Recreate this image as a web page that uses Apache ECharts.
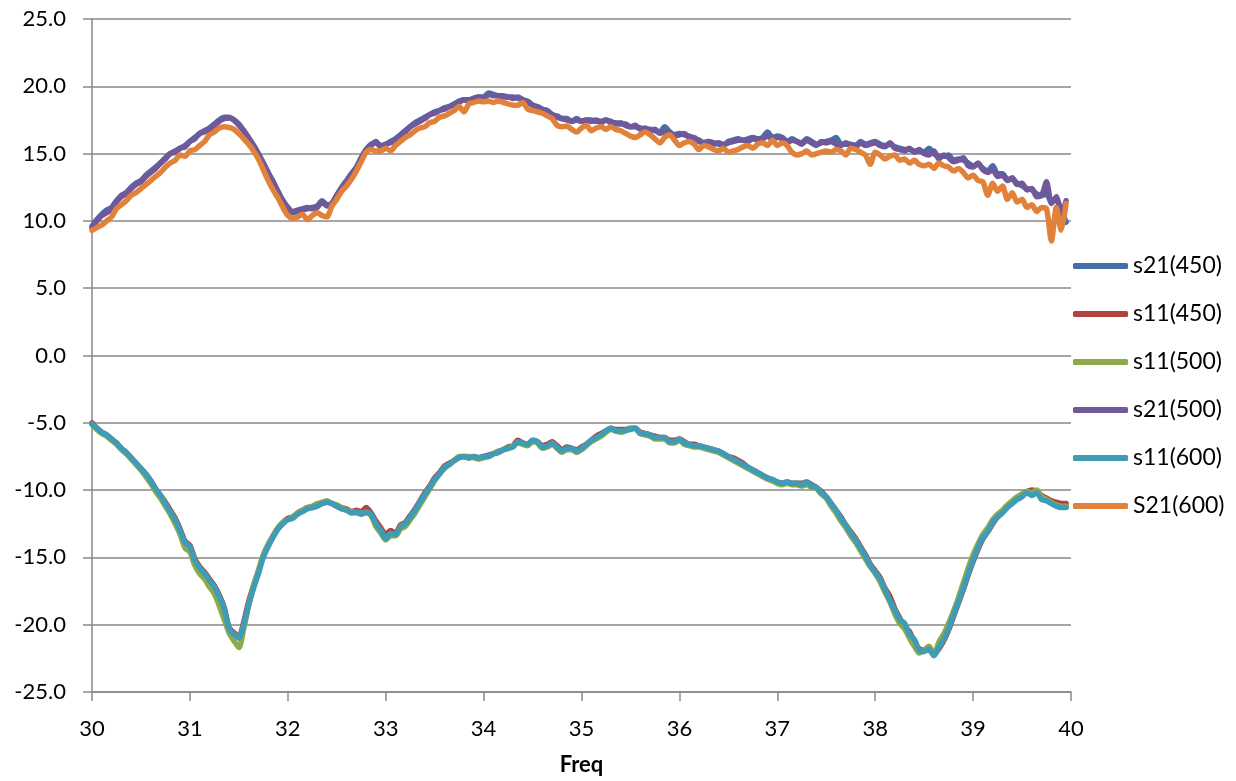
<!DOCTYPE html>
<html><head><meta charset="utf-8">
<script src="https://cdn.jsdelivr.net/npm/echarts@6/dist/echarts.min.js"></script>
<style>html,body{margin:0;padding:0;background:#fff}#c{width:1236px;height:781px}</style>
</head><body><div id="c"></div>
<script>
const freq = [
30,30.05,30.1,30.15,30.2,30.25,30.3,30.35,30.4,30.45,30.5,30.55,30.6,30.65,30.7,30.75,30.8,30.85,30.9,30.95,
31,31.05,31.1,31.15,31.2,31.25,31.3,31.35,31.4,31.45,31.5,31.55,31.6,31.65,31.7,31.75,31.8,31.85,31.9,31.95,
32,32.05,32.1,32.15,32.2,32.25,32.3,32.35,32.4,32.45,32.5,32.55,32.6,32.65,32.7,32.75,32.8,32.85,32.9,32.95,
33,33.05,33.1,33.15,33.2,33.25,33.3,33.35,33.4,33.45,33.5,33.55,33.6,33.65,33.7,33.75,33.8,33.85,33.9,33.95,
34,34.05,34.1,34.15,34.2,34.25,34.3,34.35,34.4,34.45,34.5,34.55,34.6,34.65,34.7,34.75,34.8,34.85,34.9,34.95,
35,35.05,35.1,35.15,35.2,35.25,35.3,35.35,35.4,35.45,35.5,35.55,35.6,35.65,35.7,35.75,35.8,35.85,35.9,35.95,
36,36.05,36.1,36.15,36.2,36.25,36.3,36.35,36.4,36.45,36.5,36.55,36.6,36.65,36.7,36.75,36.8,36.85,36.9,36.95,
37,37.05,37.1,37.15,37.2,37.25,37.3,37.35,37.4,37.45,37.5,37.55,37.6,37.65,37.7,37.75,37.8,37.85,37.9,37.95,
38,38.05,38.1,38.15,38.2,38.25,38.3,38.35,38.4,38.45,38.5,38.55,38.6,38.65,38.7,38.75,38.8,38.85,38.9,38.95,
39,39.05,39.1,39.15,39.2,39.25,39.3,39.35,39.4,39.45,39.5,39.55,39.6,39.65,39.7,39.75,39.8,39.85,39.9,39.95
];
const s21_450 = [
9.6,10.1,10.5,10.8,11.0,11.5,11.9,12.1,12.5,12.8,13.0,13.4,13.7,14.0,14.3,14.7,15.0,15.2,15.4,15.6,
15.9,16.2,16.5,16.7,16.9,17.2,17.5,17.7,17.7,17.5,17.2,16.7,16.2,15.6,15.0,14.3,13.6,12.9,12.2,11.5,
11.0,10.6,10.7,10.8,10.9,11.0,11.1,11.5,11.2,11.3,11.9,12.5,13.0,13.5,14.0,14.7,15.3,15.7,15.8,15.6,
15.7,15.9,16.1,16.4,16.7,17.0,17.3,17.5,17.7,17.9,18.1,18.2,18.4,18.5,18.7,18.9,19.0,19.0,19.1,19.2,
19.2,19.5,19.4,19.3,19.3,19.2,19.2,19.1,19.0,18.9,18.6,18.5,18.3,18.2,17.9,17.8,17.6,17.6,17.4,17.6,
17.4,17.5,17.5,17.4,17.4,17.5,17.3,17.3,17.2,17.2,17.0,17.0,16.9,16.8,16.8,16.7,16.6,17.0,16.6,16.4,
16.5,16.4,16.3,16.1,16.0,15.8,15.9,15.8,15.7,15.6,15.9,16.0,16.1,16.0,16.1,16.2,16.1,16.2,16.6,16.2,
16.3,16.2,15.9,16.1,15.9,15.8,16.1,15.9,15.7,15.8,15.9,16.0,16.2,15.7,15.7,15.7,15.6,15.9,15.7,15.8,
15.9,15.7,15.6,15.7,15.5,15.4,15.3,15.3,15.2,15.2,15.1,15.4,15.0,14.8,14.8,14.9,14.5,14.6,14.5,14.3,
14.1,14.2,13.9,13.7,14.1,13.5,13.5,13.1,13.1,12.8,12.6,12.4,12.3,12.0,11.9,12.0,11.4,11.6,10.8,9.9
];
const s11_450 = [
-5.0,-5.4,-5.7,-5.9,-6.2,-6.5,-6.9,-7.2,-7.6,-8.0,-8.4,-8.8,-9.3,-9.9,-10.4,-10.9,-11.5,-12.1,-12.9,-13.8,
-14.1,-15.1,-15.7,-16.1,-16.6,-17.1,-17.8,-18.7,-20.2,-20.6,-20.9,-19.8,-18.3,-17.1,-16.0,-14.9,-14.1,-13.4,-12.8,-12.4,
-12.1,-12.0,-11.7,-11.5,-11.3,-11.3,-11.1,-11.0,-10.9,-11.0,-11.2,-11.3,-11.4,-11.6,-11.5,-11.6,-11.3,-11.7,-12.3,-12.8,
-13.3,-13.0,-13.2,-12.6,-12.4,-11.9,-11.4,-10.8,-10.2,-9.7,-9.1,-8.7,-8.2,-8.0,-7.8,-7.6,-7.5,-7.6,-7.5,-7.6,
-7.5,-7.4,-7.3,-7.2,-7.0,-6.8,-6.7,-6.3,-6.5,-6.6,-6.3,-6.4,-6.7,-6.6,-6.4,-6.7,-7.0,-6.8,-6.9,-7.0,
-6.8,-6.6,-6.3,-6.0,-5.8,-5.6,-5.4,-5.5,-5.5,-5.5,-5.4,-5.4,-5.7,-5.8,-5.9,-6.0,-6.1,-6.1,-6.3,-6.3,
-6.2,-6.4,-6.6,-6.6,-6.7,-6.8,-6.9,-7.0,-7.1,-7.3,-7.5,-7.6,-7.8,-8.0,-8.3,-8.5,-8.7,-8.9,-9.1,-9.3,
-9.4,-9.5,-9.4,-9.5,-9.5,-9.5,-9.4,-9.6,-9.8,-10.1,-10.5,-11.0,-11.5,-12.0,-12.6,-13.1,-13.6,-14.2,-14.8,-15.5,
-16.0,-16.5,-17.3,-17.9,-18.8,-19.5,-20.2,-20.5,-21.3,-21.8,-21.9,-21.9,-22.2,-21.8,-21.2,-20.4,-19.4,-18.4,-17.4,-16.3,
-15.3,-14.4,-13.6,-13.1,-12.5,-12.0,-11.6,-11.2,-10.9,-10.6,-10.3,-10.1,-10.0,-10.1,-10.4,-10.6,-10.8,-10.9,-11.0,-11.0
];
const s11_500 = [
-5.1,-5.5,-5.8,-6.0,-6.3,-6.6,-7.0,-7.3,-7.7,-8.1,-8.5,-9.0,-9.5,-10.1,-10.6,-11.2,-11.8,-12.5,-13.3,-14.3,
-14.6,-15.6,-16.2,-16.6,-17.2,-17.7,-18.6,-19.6,-20.6,-21.2,-21.7,-20.3,-18.6,-17.1,-16.0,-14.8,-14.0,-13.4,-12.8,-12.4,
-12.2,-12.0,-11.7,-11.5,-11.3,-11.2,-11.0,-10.9,-10.8,-11.0,-11.1,-11.3,-11.5,-11.6,-11.7,-11.7,-11.7,-11.9,-12.7,-13.2,
-13.7,-13.4,-13.4,-12.9,-12.7,-12.2,-11.7,-11.1,-10.5,-9.9,-9.3,-8.8,-8.4,-8.1,-7.8,-7.5,-7.5,-7.5,-7.6,-7.7,
-7.6,-7.5,-7.3,-7.1,-7.0,-6.9,-6.7,-6.5,-6.6,-6.7,-6.4,-6.5,-6.9,-6.8,-6.6,-6.9,-7.2,-7.0,-7.0,-7.2,
-7.0,-6.7,-6.4,-6.2,-6.0,-5.7,-5.5,-5.6,-5.7,-5.6,-5.4,-5.4,-5.8,-5.9,-6.0,-6.2,-6.2,-6.2,-6.5,-6.5,
-6.3,-6.6,-6.7,-6.8,-6.8,-6.9,-7.0,-7.1,-7.2,-7.4,-7.6,-7.8,-8.0,-8.2,-8.4,-8.6,-8.8,-9.0,-9.2,-9.3,
-9.5,-9.6,-9.5,-9.6,-9.6,-9.7,-9.6,-9.8,-9.9,-10.3,-10.6,-11.2,-11.7,-12.3,-12.8,-13.4,-13.9,-14.5,-15.1,-15.7,
-16.2,-16.8,-17.6,-18.3,-19.2,-19.9,-20.3,-21.0,-21.6,-22.1,-21.9,-21.6,-22.2,-21.3,-20.7,-19.9,-19.0,-18.0,-16.9,-15.8,
-14.8,-14.0,-13.3,-12.8,-12.2,-11.8,-11.5,-11.1,-10.8,-10.5,-10.3,-10.1,-10.2,-10.0,-10.5,-10.7,-10.9,-11.1,-11.2,-11.2
];
const s21_500 = [
9.5,10.0,10.4,10.6,10.9,11.4,11.8,12.0,12.4,12.7,12.9,13.3,13.6,13.9,14.3,14.6,15.0,15.1,15.4,15.5,
15.9,16.1,16.5,16.6,16.8,17.1,17.4,17.6,17.65,17.5,17.1,16.7,16.1,15.6,14.9,14.3,13.5,12.9,12.1,11.5,
11.0,10.7,10.8,10.9,11.0,10.9,11.0,11.4,11.1,11.3,11.9,12.4,12.9,13.5,13.9,14.6,15.3,15.6,15.9,15.5,
15.7,15.8,16.0,16.3,16.6,17.0,17.2,17.4,17.6,17.9,18.0,18.2,18.3,18.5,18.6,18.8,19.0,18.9,19.1,19.2,
19.1,19.4,19.3,19.3,19.2,19.2,19.1,19.2,19.0,18.8,18.6,18.4,18.3,18.1,17.9,17.7,17.6,17.5,17.4,17.5,
17.4,17.5,17.4,17.5,17.3,17.5,17.4,17.2,17.3,17.1,17.0,17.1,16.8,16.9,16.7,16.8,16.5,16.6,16.6,16.3,
16.4,16.5,16.2,16.2,15.9,15.8,15.9,15.7,15.8,15.7,15.8,15.9,16.0,16.0,15.9,16.1,16.0,16.1,16.3,16.1,
16.2,16.1,15.8,16.0,15.9,15.7,16.0,15.8,15.6,15.9,15.8,15.9,15.7,15.6,15.8,15.6,15.5,15.8,15.6,15.7,
15.8,15.6,15.5,15.8,15.4,15.3,15.2,15.4,15.1,15.3,15.0,14.9,15.2,14.6,14.9,14.7,14.4,14.5,14.7,14.1,
14.0,14.3,13.8,13.6,13.8,13.3,13.4,13.0,13.2,12.7,12.8,12.3,12.4,11.8,11.9,12.9,11.3,11.8,10.3,11.5
];
const s11_600 = [
-5.1,-5.4,-5.7,-5.9,-6.2,-6.5,-6.9,-7.2,-7.6,-8.0,-8.4,-8.8,-9.3,-9.9,-10.4,-11.0,-11.6,-12.2,-13.0,-13.9,
-14.2,-15.2,-15.8,-16.2,-16.7,-17.2,-17.9,-18.8,-20.3,-20.7,-21.0,-20.0,-18.5,-17.3,-16.2,-15.0,-14.2,-13.5,-12.9,-12.5,
-12.2,-12.1,-11.8,-11.6,-11.4,-11.3,-11.2,-11.0,-10.9,-11.0,-11.2,-11.4,-11.5,-11.7,-11.6,-11.8,-11.6,-11.8,-12.5,-13.0,
-13.6,-13.2,-13.3,-12.7,-12.5,-12.0,-11.5,-10.9,-10.3,-9.8,-9.2,-8.8,-8.3,-8.1,-7.8,-7.6,-7.5,-7.6,-7.5,-7.6,
-7.5,-7.5,-7.3,-7.2,-7.0,-6.9,-6.8,-6.4,-6.5,-6.6,-6.3,-6.4,-6.8,-6.7,-6.5,-6.8,-7.1,-6.9,-6.9,-7.1,
-6.9,-6.6,-6.3,-6.1,-5.9,-5.6,-5.4,-5.6,-5.6,-5.55,-5.5,-5.4,-5.8,-5.8,-5.9,-6.1,-6.1,-6.1,-6.4,-6.4,
-6.2,-6.5,-6.6,-6.7,-6.7,-6.8,-6.9,-7.0,-7.1,-7.3,-7.5,-7.7,-7.9,-8.1,-8.3,-8.5,-8.7,-8.9,-9.1,-9.2,
-9.4,-9.5,-9.4,-9.5,-9.5,-9.6,-9.4,-9.7,-9.8,-10.2,-10.5,-11.0,-11.5,-12.1,-12.6,-13.2,-13.7,-14.3,-14.9,-15.6,
-16.1,-16.6,-17.4,-18.2,-18.9,-19.6,-19.9,-20.7,-21.1,-21.9,-22.0,-21.8,-22.3,-21.7,-21.1,-20.3,-19.3,-18.3,-17.3,-16.2,
-15.2,-14.3,-13.5,-13.1,-12.4,-12.0,-11.7,-11.3,-11.0,-10.7,-10.5,-10.2,-10.4,-10.2,-10.7,-10.8,-11.0,-11.2,-11.3,-11.3
];
const S21_600 = [
9.3,9.5,9.7,10.0,10.3,10.9,11.2,11.5,11.9,12.1,12.4,12.7,13.0,13.3,13.6,14.0,14.3,14.5,14.9,14.8,
15.2,15.3,15.6,15.9,16.4,16.6,16.9,17.0,16.95,16.8,16.5,16.1,15.7,15.2,14.6,13.8,13.0,12.3,11.7,11.0,
10.4,10.2,10.3,10.5,10.1,10.4,10.6,10.4,10.3,11.1,11.6,12.2,12.6,13.1,13.7,14.4,15.1,15.3,15.2,15.2,
15.4,15.2,15.6,15.9,16.2,16.4,16.7,16.9,17.0,17.3,17.4,17.7,17.8,18.0,18.2,18.5,18.1,18.7,18.8,18.9,
18.85,18.9,18.8,18.9,18.8,18.7,18.6,18.6,18.8,18.3,18.2,18.1,18.0,17.8,17.6,17.1,17.0,17.05,16.8,16.6,
16.9,17.1,16.7,16.9,17.0,16.8,17.0,16.8,16.7,16.5,16.3,16.2,16.4,16.6,16.4,16.1,15.8,16.2,16.4,16.0,
15.6,15.8,15.9,15.7,15.3,15.6,15.5,15.3,15.2,15.4,15.1,15.2,15.3,15.5,15.6,15.4,15.7,15.8,15.6,16.0,
15.6,15.8,15.6,15.1,14.9,15.0,15.2,14.9,15.0,15.1,15.2,15.1,15.3,15.2,14.9,15.4,15.3,15.1,14.9,14.2,
15.1,14.9,14.6,14.8,14.9,14.5,14.6,14.3,14.5,14.2,14.1,14.2,13.9,14.3,14.1,14.0,13.7,13.9,13.6,13.2,
13.4,13.0,12.9,11.9,12.8,12.2,12.6,11.6,12.1,11.4,11.6,11.0,11.2,10.7,11.0,10.9,8.5,11.0,9.3,11.3
];
const seriesNames = ['s21(450)','s11(450)','s11(500)','s21(500)','s11(600)','S21(600)'];
const seriesValues = [s21_450, s11_450, s11_500, s21_500, s11_600, S21_600];
const seriesColors = ['#4270A8','#B2423E','#8DAA4B','#70589A','#3F9CB6','#E2823A'];
const xName = 'Freq';

const FONT = 'Lato, "Open Sans", sans-serif';
const axisGray = '#898989';
const chart = echarts.init(document.getElementById('c'), null, {renderer:'canvas'});
chart.setOption({
  animation: false,
  backgroundColor: '#fff',
  grid: {left: 92, right: 165, top: 19, bottom: 89, containLabel: false},
  legend: {
    orient: 'vertical', left: 1068, top: 249,
    itemWidth: 55, itemHeight: 6, itemGap: 24, icon: 'roundRect',
    textStyle: {fontFamily: FONT, fontSize: 23, color: '#000', lineHeight: 24},
    data: seriesNames
  },
  xAxis: {
    type: 'value', min: 30, max: 40, interval: 1,
    name: xName, nameLocation: 'middle', nameGap: 62,
    nameTextStyle: {fontFamily: FONT, fontSize: 22, fontWeight: 'bold', color: '#000'},
    axisLine: {show: true, onZero: false, lineStyle: {color: axisGray, width: 1.5}},
    axisTick: {show: true, length: 9, lineStyle: {color: axisGray, width: 1.5}},
    axisLabel: {margin: 26, fontFamily: FONT, fontSize: 22, color: '#000'},
    splitLine: {show: false}
  },
  yAxis: {
    type: 'value', min: -25, max: 25, interval: 5,
    axisLine: {show: true, onZero: false, lineStyle: {color: axisGray, width: 1.5}},
    axisTick: {show: true, length: 9, lineStyle: {color: axisGray, width: 1.5}},
    axisLabel: {margin: 26, fontFamily: FONT, fontSize: 22, color: '#000', formatter: v => v.toFixed(1)},
    splitLine: {show: true, lineStyle: {color: axisGray, width: 1.5}}
  },
  series: seriesNames.map((name, k) => ({
    name: name, type: 'line', showSymbol: false, symbol: 'none', smooth: 0.25,
    color: seriesColors[k],
    lineStyle: {width: 5.5, color: seriesColors[k], cap: 'round', join: 'round'},
    emphasis: {disabled: true},
    data: seriesValues[k].map((v, i) => [freq[i], v])
  }))
});
</script></body></html>
